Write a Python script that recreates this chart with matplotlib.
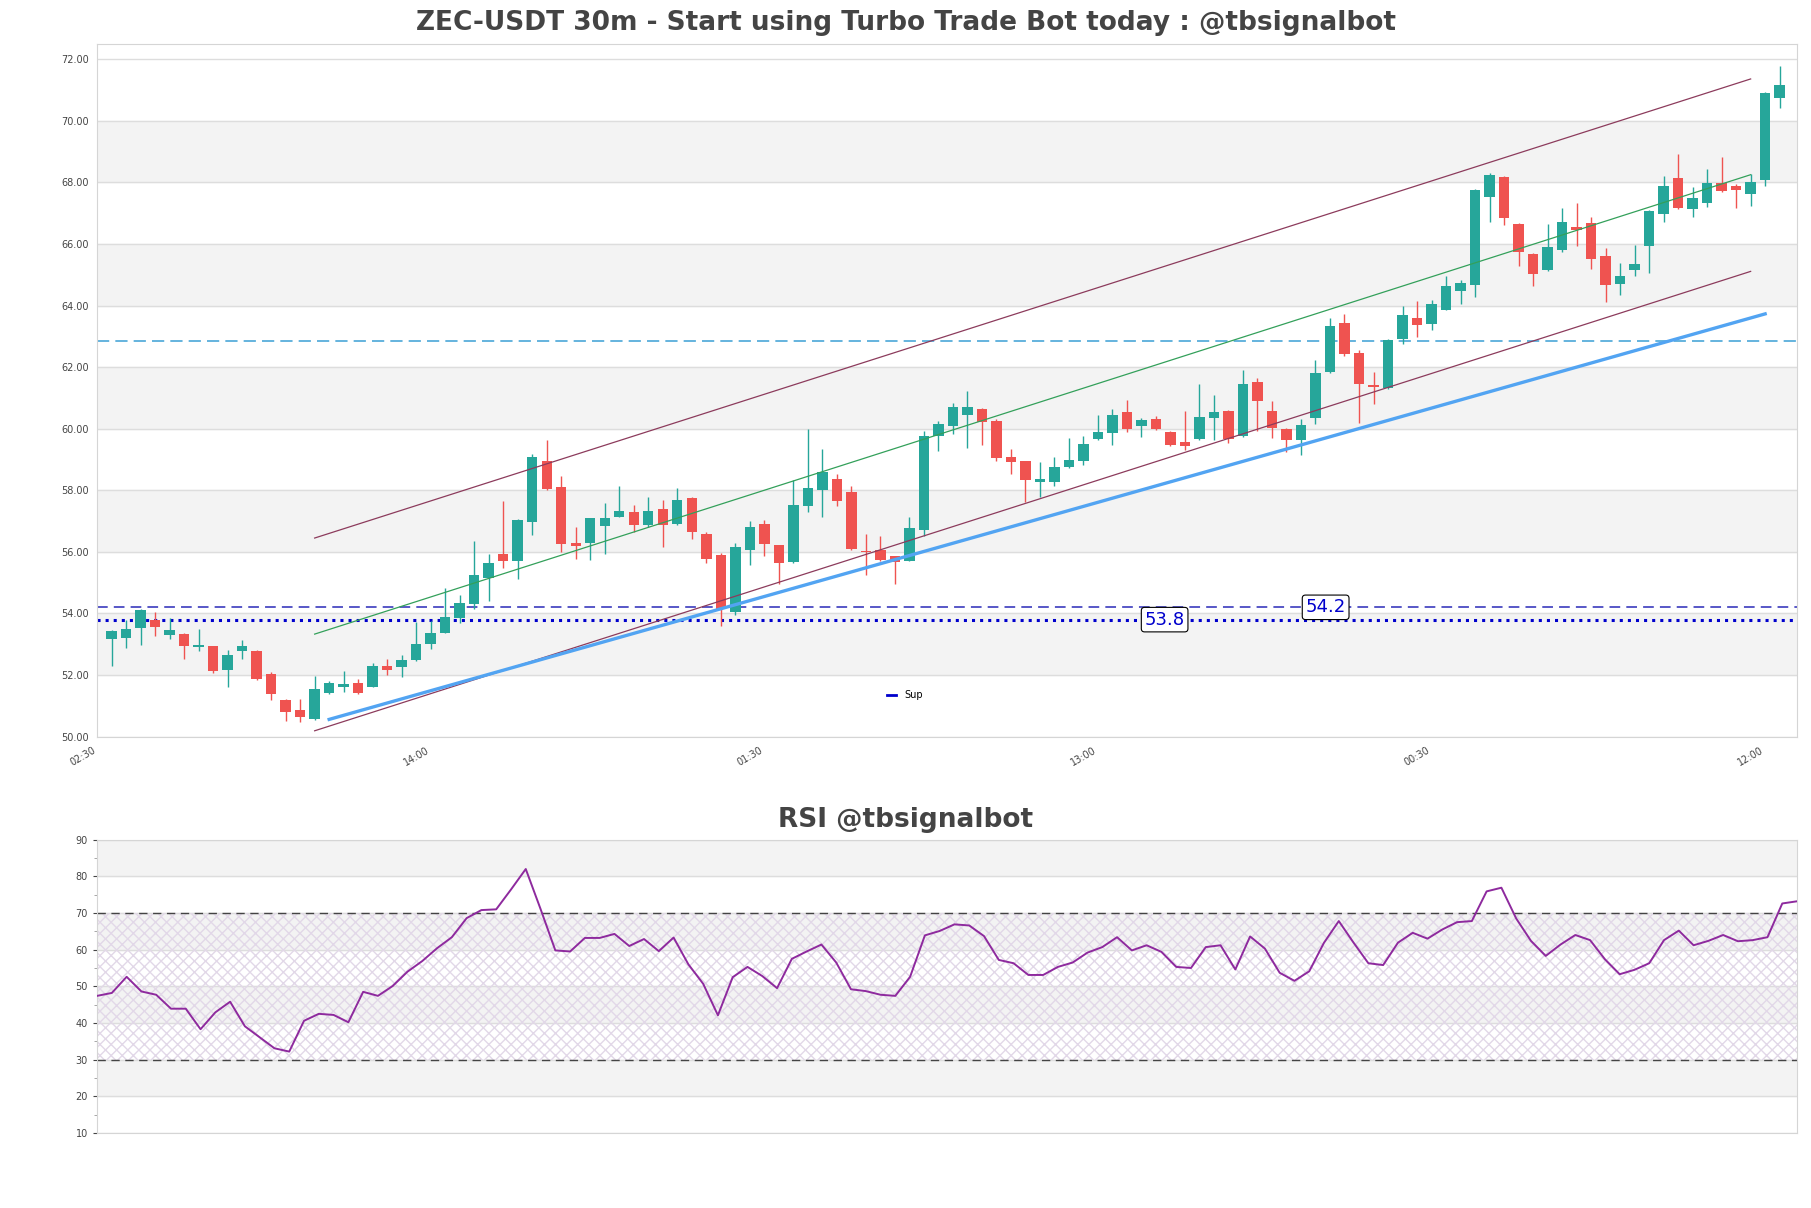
import numpy as np
import matplotlib
matplotlib.use('Agg')
import matplotlib.pyplot as plt
from matplotlib.lines import Line2D
from matplotlib.ticker import MultipleLocator

# ==========================================
# 1. 数据
# ==========================================
opens = [53.18, 53.21, 53.53, 53.80, 53.31, 53.33, 52.92, 52.94, 52.16, 52.79,
         52.78, 52.03, 51.19, 50.86, 50.58, 51.42, 51.62, 51.74, 51.62, 52.29,
         52.26, 52.48, 53.00, 53.37, 53.85, 54.31, 55.15, 55.92, 55.71, 56.97,
         58.96, 58.12, 56.28, 56.29, 56.84, 57.13, 57.29, 56.87, 57.38, 56.90,
         57.74, 56.57, 55.90, 54.05, 56.06, 56.90, 56.21, 55.67, 57.49, 58.01,
         58.36, 57.94, 56.04, 56.05, 55.86, 55.71, 56.71, 59.78, 60.08, 60.44,
         60.65, 60.24, 59.09, 58.94, 58.28, 58.27, 58.75, 58.95, 59.66, 59.86,
         60.53, 60.08, 60.30, 59.91, 59.58, 59.66, 60.34, 60.58, 59.76, 61.53,
         60.56, 60.00, 59.63, 60.34, 61.83, 63.45, 62.47, 61.43, 61.33, 62.91,
         63.61, 63.40, 63.86, 64.47, 64.66, 67.51, 68.18, 66.65, 65.68, 65.14,
         65.79, 66.55, 66.68, 65.62, 64.69, 65.14, 65.93, 66.99, 68.15, 67.13,
         67.32, 67.98, 67.89, 67.61, 68.09, 70.75]
highs = [53.45, 53.78, 54.15, 54.06, 53.84, 53.35, 53.51, 52.95, 52.83, 53.13,
         52.80, 52.09, 51.21, 51.22, 51.97, 51.81, 52.13, 51.87, 52.38, 52.52,
         52.65, 53.73, 53.76, 54.84, 54.61, 56.37, 55.92, 57.64, 57.07, 59.17,
         59.64, 58.48, 56.80, 57.10, 57.60, 58.15, 57.51, 57.77, 57.67, 58.09,
         57.77, 56.65, 55.98, 56.30, 56.99, 57.02, 56.22, 58.32, 60.00, 59.33,
         58.54, 58.15, 56.57, 56.51, 55.88, 57.13, 59.94, 60.25, 60.84, 61.24,
         60.67, 60.32, 59.33, 58.95, 58.91, 59.09, 59.71, 59.75, 60.43, 60.63,
         60.94, 60.36, 60.42, 59.92, 60.56, 61.46, 61.11, 60.60, 61.92, 61.65,
         60.89, 60.02, 60.33, 62.22, 63.59, 63.71, 62.55, 61.83, 62.92, 64.00,
         64.16, 64.18, 64.97, 64.83, 67.77, 68.30, 68.20, 66.67, 65.70, 66.66,
         67.17, 67.34, 66.88, 65.87, 65.38, 65.97, 67.10, 68.22, 68.92, 67.86,
         68.43, 68.81, 67.95, 68.27, 70.92, 71.79]
lows = [52.29, 52.88, 52.99, 53.28, 53.18, 52.53, 52.79, 52.08, 51.62, 52.52,
        51.84, 51.19, 50.52, 50.48, 50.55, 51.38, 51.46, 51.37, 51.60, 52.00,
        51.94, 52.45, 52.86, 53.35, 53.70, 54.15, 54.41, 55.48, 55.13, 56.56,
        58.00, 56.00, 55.78, 55.74, 55.93, 57.12, 56.66, 56.81, 56.16, 56.88,
        56.42, 55.64, 53.60, 53.94, 55.59, 55.87, 54.95, 55.65, 57.30, 57.13,
        57.49, 56.05, 55.26, 55.72, 54.97, 55.69, 56.50, 59.27, 59.84, 59.37,
        59.48, 58.95, 58.54, 57.61, 57.78, 58.13, 58.73, 58.81, 59.65, 59.46,
        59.89, 59.73, 59.96, 59.44, 59.30, 59.63, 59.65, 59.55, 59.74, 59.92,
        59.70, 59.25, 59.16, 60.16, 61.80, 62.35, 60.18, 60.80, 61.30, 62.74,
        62.97, 63.21, 63.84, 64.04, 64.27, 66.73, 66.63, 65.30, 64.63, 65.12,
        65.73, 65.92, 65.18, 64.11, 64.35, 64.97, 65.06, 66.72, 67.14, 66.89,
        67.21, 67.70, 67.16, 67.22, 67.87, 70.41]
closes = [53.43, 53.51, 54.10, 53.56, 53.45, 52.95, 52.94, 52.13, 52.65, 52.94,
          51.87, 51.38, 50.81, 50.65, 51.54, 51.74, 51.70, 51.42, 52.29, 52.16,
          52.48, 53.00, 53.38, 53.87, 54.33, 55.24, 55.65, 55.71, 57.05, 59.09,
          58.04, 56.26, 56.19, 57.09, 57.09, 57.32, 56.87, 57.32, 56.87, 57.67,
          56.65, 55.77, 54.15, 56.15, 56.80, 56.26, 55.64, 57.51, 58.09, 58.58,
          57.66, 56.08, 55.99, 55.74, 55.67, 56.77, 59.78, 60.14, 60.72, 60.72,
          60.21, 59.05, 58.92, 58.35, 58.36, 58.75, 58.97, 59.49, 59.88, 60.46,
          59.99, 60.27, 59.99, 59.46, 59.43, 60.39, 60.53, 59.68, 61.44, 60.89,
          60.02, 59.63, 60.13, 61.82, 63.33, 62.43, 61.45, 61.36, 62.89, 63.68,
          63.37, 64.06, 64.65, 64.74, 67.75, 68.24, 66.83, 65.73, 65.01, 65.91,
          66.73, 66.47, 65.51, 64.66, 64.97, 65.35, 67.08, 67.89, 67.16, 67.50,
          67.98, 67.71, 67.74, 68.01, 70.89, 71.16]

rsi = [47.4, 48.2, 52.6, 48.6, 47.7, 43.9, 43.9, 38.3, 42.9, 45.8,
       39.1, 36.1, 33.1, 32.2, 40.6, 42.5, 42.2, 40.2, 48.5, 47.4,
       50.1, 54.0, 56.9, 60.4, 63.4, 68.6, 70.8, 71.0, 76.4, 82.0,
       71.1, 59.8, 59.5, 63.2, 63.2, 64.3, 61.0, 62.9, 59.6, 63.3,
       56.0, 50.7, 42.1, 52.5, 55.3, 52.8, 49.5, 57.5, 59.5, 61.4,
       56.5, 49.2, 48.7, 47.7, 47.4, 52.6, 63.9, 65.1, 66.9, 66.6,
       63.7, 57.2, 56.3, 53.1, 53.1, 55.3, 56.5, 59.2, 60.7, 63.4,
       59.8, 61.2, 59.4, 55.3, 55.0, 60.7, 61.2, 54.6, 63.6, 60.3,
       53.7, 51.5, 54.1, 61.9, 67.8, 61.9, 56.3, 55.8, 61.9, 64.6,
       63.0, 65.5, 67.5, 67.8, 75.9, 76.9, 68.5, 62.4, 58.3, 61.4,
       64.0, 62.6, 57.4, 53.3, 54.5, 56.3, 62.6, 65.2, 61.2, 62.4,
       64.0, 62.3, 62.6, 63.4, 72.6, 73.2]

# x 轴标签 (每 23 根 K 线一个)
tick_pos = [-1, 22, 45, 68, 91, 114]
tick_labels = ['02:30', '14:00', '01:30', '13:00', '00:30', '12:00']

# 趋势通道 (起点, 终点)
channel_x = [14, 113]
channel_upper = [56.45, 71.36]
channel_mid = [53.33, 68.25]
channel_lower = [50.19, 65.11]
support_x = [15, 114]
support_y = [50.56, 63.73]

# 水平位
level_top = 62.84
level_res = 54.2
level_sup = 53.8
level_res_x = 83.7
level_sup_x = 72.6

# ==========================================
# 2. 画布
# ==========================================
fig = plt.figure(figsize=(18.11, 12.08), dpi=100)
ax = fig.add_axes([0.0536, 0.3902, 0.9387, 0.5735])
ax2 = fig.add_axes([0.0536, 0.0621, 0.9387, 0.2428])

grid_c = '#dddddd'
band_c = '#f3f3f3'
text_c = '#444444'

# --- 主图 ---
for lo in range(52, 72, 4):
    ax.axhspan(lo, lo + 2, color=band_c, zorder=0)

o = np.array(opens)
h = np.array(highs)
l = np.array(lows)
c = np.array(closes)
x = np.arange(len(o))
up = c >= o
colors = np.where(up, '#26a69a', '#ef5350')

ax.vlines(x, l, h, colors=colors, linewidth=1.0, zorder=3)
body_lo = np.minimum(o, c)
body_h = np.maximum(np.abs(c - o), 0.04)
ax.bar(x, body_h, bottom=body_lo, width=0.72, color=colors, linewidth=0, zorder=4)

# 通道线
ax.plot(channel_x, channel_upper, color='#8c3b5c', lw=0.9, zorder=5)
ax.plot(channel_x, channel_lower, color='#8c3b5c', lw=0.9, zorder=5)
ax.plot(channel_x, channel_mid, color='#33a05a', lw=0.9, zorder=5)
ax.plot(support_x, support_y, color='#52a4f2', lw=2.4, zorder=5)

# 水平线
ax.axhline(level_top, color='#3a9fd4', lw=1.1, ls=(0, (8, 4)), zorder=2)
ax.axhline(level_res, color='#2a2ab8', lw=1.1, ls=(0, (7, 4)), zorder=2)
ax.axhline(level_sup, color='#0000cc', lw=2.2, ls=':', zorder=2)

box = dict(boxstyle='round,pad=0.18', fc='white', ec='black', lw=0.8)
ax.text(level_res_x, level_res, f'{level_res:.1f}', color='#0000cc', fontsize=13,
        ha='center', va='center', bbox=box, zorder=6)
ax.text(level_sup_x, level_sup, f'{level_sup:.1f}', color='#0000cc', fontsize=13,
        ha='center', va='center', bbox=box, zorder=6)

sup_handle = Line2D([], [], color='#0000cc', lw=2.0)
ax.legend(handles=[sup_handle], labels=['Sup'], loc='lower center',
          bbox_to_anchor=(0.475, 0.04), frameon=False, fontsize=7, handlelength=1.0)

ax.set_xlim(-1, 116.2)
ax.set_ylim(50, 72.5)
ax.set_yticks(np.arange(50, 73, 2))
ax.set_yticklabels([f'{v:.2f}' for v in np.arange(50, 73, 2)])
ax.set_xticks(tick_pos)
ax.set_xticklabels(tick_labels, rotation=30, ha='right')
ax.yaxis.grid(True, color=grid_c, lw=1.0)
ax.set_axisbelow(True)
ax.tick_params(axis='both', length=0, labelsize=7, colors=text_c, pad=6)
for s in ax.spines.values():
    s.set_color('#d5d5d5')

fig.text(0.5, 1 - 23 / 1208, 'ZEC-USDT 30m - Start using Turbo Trade Bot today : @tbsignalbot',
         ha='center', va='center', fontsize=19, fontweight='bold', color=text_c)

# --- RSI ---
for lo in range(20, 90, 20):
    ax2.axhspan(lo, lo + 10, color=band_c, zorder=0)
xr = np.arange(len(rsi))
ax2.fill_between([0, len(rsi) - 1], 30, 70, facecolor='none', hatch='xxx',
                 edgecolor='#e2d8e8', linewidth=0, zorder=1)
ax2.axhline(70, color='#444444', lw=1.0, ls=(0, (6, 4)), zorder=2)
ax2.axhline(30, color='#444444', lw=1.0, ls=(0, (6, 4)), zorder=2)
ax2.plot(xr, rsi, color='#8e2a9e', lw=1.4, zorder=3)

ax2.set_xlim(0, len(rsi) - 1)
ax2.set_ylim(10, 90)
ax2.yaxis.set_major_locator(MultipleLocator(10))
ax2.yaxis.set_minor_locator(MultipleLocator(5))
ax2.set_xticks([])
ax2.yaxis.grid(True, color=grid_c, lw=1.0)
ax2.set_axisbelow(True)
ax2.tick_params(axis='y', which='major', length=3, labelsize=7, colors=text_c)
ax2.tick_params(axis='y', which='minor', length=2, colors='#999999')
for s in ax2.spines.values():
    s.set_color('#d5d5d5')

fig.text(0.5, 1 - 820 / 1208, 'RSI @tbsignalbot', ha='center', va='center',
         fontsize=19, fontweight='bold', color=text_c)

fig.savefig('out.png', dpi=100)
